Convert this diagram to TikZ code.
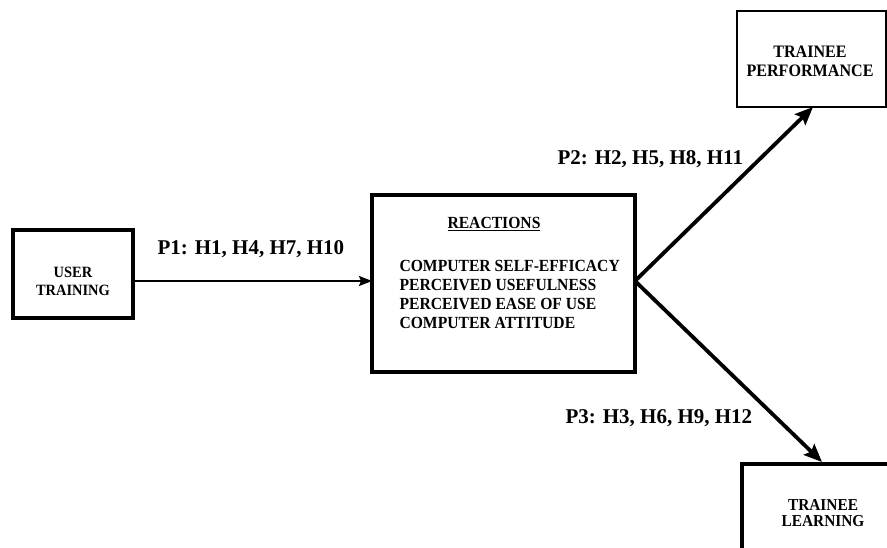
\documentclass[tikz,border=0pt]{standalone}
\usepackage{fontspec}
\setmainfont{Liberation Serif}
\newfontfamily\boxfont{Liberation Serif}[FakeStretch=0.92]
\usetikzlibrary{arrows.meta}
\begin{document}
\begin{tikzpicture}[x=1pt,y=-1pt,
  thickbox/.style={draw,line width=3.4pt},
  thinbox/.style={draw,line width=1.3pt},
  boxtext/.style={align=center},
  lbl/.style={font=\fontsize{21}{23}\selectfont\bfseries},
  thinarrow/.style={line width=1.8pt,-{Stealth[length=13pt,width=10pt,inset=2pt]}},
  thickarrow/.style={line width=3.8pt,-{Stealth[length=18pt,width=15pt,inset=3pt]}}]
\clip (0,0) rectangle (887,548);
\fill[white] (0,0) rectangle (887,548);
% boxes
\draw[thickbox] (13,230) rectangle (133,318);
\node[boxtext,font=\boxfont\fontsize{15.7}{18}\selectfont\bfseries] (ut) at (73,281) {USER\\TRAINING};
\coordinate (utE) at (133,281);
\draw[thickbox] (372,195) rectangle (635,372);
\node[font=\boxfont\fontsize{17}{19}\selectfont\bfseries] (rt) at (494,224) {\underline{REACTIONS}};
\node[font=\boxfont\fontsize{17}{18.8}\selectfont\bfseries,align=left,anchor=north west] (rl) at (396,257)
 {COMPUTER SELF-EFFICACY\\PERCEIVED USEFULNESS\\PERCEIVED EASE OF USE\\COMPUTER ATTITUDE};
\coordinate (reW) at (372,281);
\coordinate (reE) at (635,281);
\draw[thinbox] (737,11) rectangle (886,107);
\node[boxtext,font=\boxfont\fontsize{17.5}{19}\selectfont\bfseries] (tp) at (810,61) {TRAINEE\\PERFORMANCE};
\coordinate (tpS) at (813,107);
\draw[thickbox] (742,464) rectangle (900,560);
\node[boxtext,font=\boxfont\fontsize{16.7}{16}\selectfont\bfseries] (tl) at (823,513) {TRAINEE\\LEARNING};
\coordinate (tlN) at (822,462);
% arrows
\draw[thinarrow] (utE) -- (reW);
\draw[thickarrow] (reE) -- (tpS);
\draw[thickarrow] (reE) -- (tlN);
% labels
\node[lbl,anchor=west] (p1) at (154,249) {P1: H1, H4, H7, H10};
\node[lbl,anchor=west] (p2) at (554,159) {P2: H2, H5, H8, H11};
\node[lbl,anchor=west] (p3) at (562,418) {P3: H3, H6, H9, H12};
\end{tikzpicture}
\end{document}
